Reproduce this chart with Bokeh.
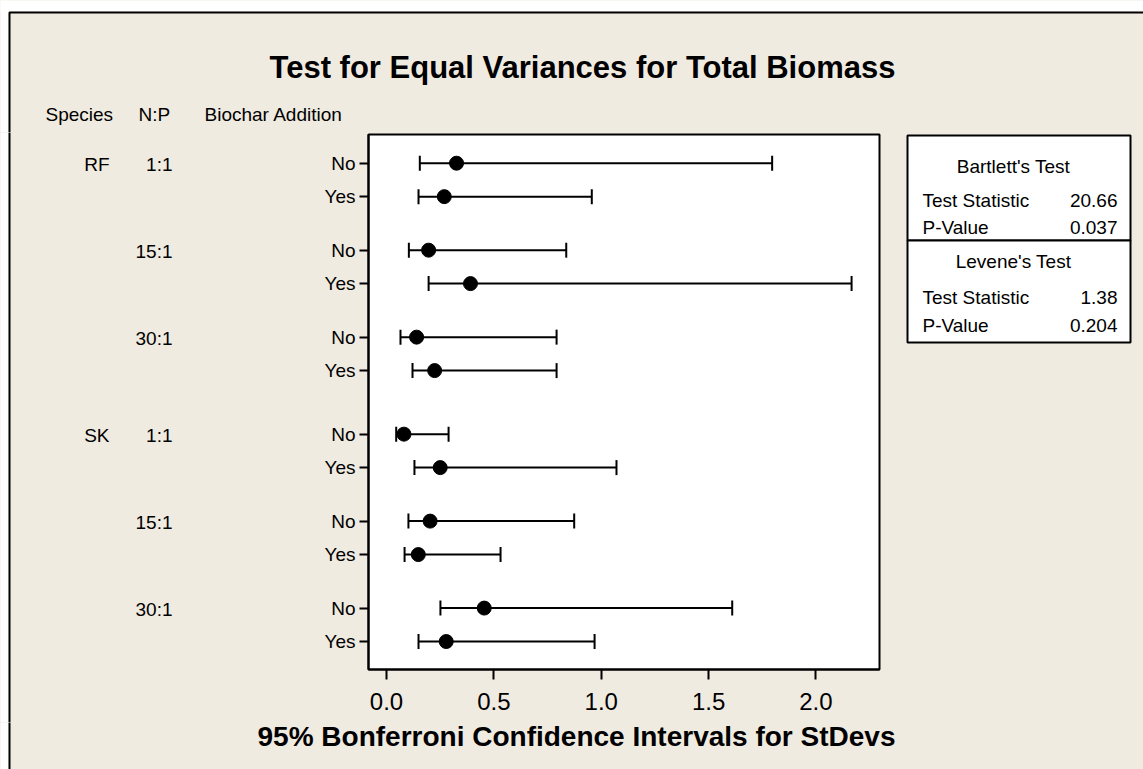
from bokeh.plotting import figure
from bokeh.layouts import column, row
from bokeh.models import (Range1d, FixedTicker, Whisker, TeeHead, ColumnDataSource,
                          PrintfTickFormatter)
from bokeh.core.properties import value
from bokeh.embed import file_html
from bokeh.resources import INLINE

# ---------------- data ----------------
species = ["RF", "SK"]
np_ratio = ["1:1", "15:1", "30:1"]
biochar = ["No", "Yes"]
lower = [0.155, 0.149, 0.104, 0.196, 0.065, 0.121, 0.045, 0.130, 0.102, 0.084, 0.251, 0.149]
stdev = [0.326, 0.269, 0.196, 0.391, 0.140, 0.224, 0.081, 0.250, 0.203, 0.148, 0.455, 0.278]
upper = [1.796, 0.956, 0.837, 2.166, 0.792, 0.792, 0.289, 1.071, 0.874, 0.531, 1.610, 0.969]
x_ticks = [0.0, 0.5, 1.0, 1.5, 2.0]
test_names = ["Bartlett's Test", "Levene's Test"]
test_stat = ["20.66", "1.38"]
p_value = ["0.037", "0.204"]
title_text = "Test for Equal Variances for Total Biomass"
x_label = "95% Bonferroni Confidence Intervals for StDevs"
headers = ["Species", "N:P", "Biochar Addition"]

# ---------------- layout (page pixels) ----------------
BG = "#F0EBE1"
FONT = "Liberation Sans"
W, H = 1143, 769
FL, FT, FR, FB = 368, 134, 879, 669          # plot frame
TOP_H = 132                                  # header strip height
MID_B = 722                                  # bottom of middle row
LEFT_W, MAIN_W = 300, 581
x0, x1 = -0.084, 2.296
y_top, y_bot = -8.58, 151.36


def PY(t):
    return FT + (t - y_top) * (FB - FT) / (y_bot - y_top)


# row positions (tenths of a row unit), with gaps between groups and species
pos, row_lab, group_first = [], [], []
for si, s in enumerate(species):
    for ni, n in enumerate(np_ratio):
        g = si * len(np_ratio) + ni
        for bi, b in enumerate(biochar):
            r = g * len(biochar) + bi
            t = r * 10 + g * 6 + si * 3
            pos.append(t)
            row_lab.append(b)
            if bi == 0:
                group_first.append((s if ni == 0 else "", n, t))


def panel(ox, oy, w, h):
    """Plain drawing surface whose data units are page pixels."""
    f = figure(width=w, height=h, x_range=Range1d(ox, ox + w), y_range=Range1d(oy + h, oy),
               min_border=0, x_axis_location=None, y_axis_location=None,
               toolbar_location=None, output_backend="svg", outline_line_color=None,
               background_fill_color=BG, border_fill_color=BG, frame_align=False)
    f.grid.visible = False
    # page margin outside the graph window (white) and the window's left/top border
    f.quad(left=[-50, -50], right=[8, 4000], top=[-50, -50], bottom=[4000, 11],
           fill_color="white", line_color=None)
    f.quad(left=[9], right=[4000], top=[12], bottom=[4000], fill_color=None,
           line_color="black", line_width=2)
    return f


def txt(f, xs, ys, texts, align="left", size="19px", bold=False):
    f.text(x=xs, y=ys, text=texts, text_align=align, text_baseline="middle",
           text_font=value(FONT), text_font_size=value(size), text_color="black",
           text_font_style="bold" if bold else "normal")


# --- top strip: title and column headers
top = panel(0, 0, W, TOP_H)
txt(top, [582], [66.5], [title_text], "center", "31px", True)
txt(top, [45, 138, 204], [114, 114, 114], headers)

# --- left strip: species and N:P labels
left = panel(0, TOP_H, LEFT_W, MID_B - TOP_H)
sp_x, sp_y, sp_t, np_y, np_t = [], [], [], [], []
for s, n, t in group_first:
    if s:
        sp_x.append(109)
        sp_y.append(PY(t) + 1)
        sp_t.append(s)
    np_y.append(PY(t) + 1)
    np_t.append(n)
txt(left, sp_x, sp_y, sp_t, "right")
txt(left, [172] * len(np_t), np_y, np_t, "right")

# --- main plot
p = figure(width=MAIN_W, height=MID_B - TOP_H, x_range=Range1d(x0, x1),
           y_range=Range1d(y_bot, y_top), output_backend="svg", toolbar_location=None,
           min_border_left=FL - LEFT_W, min_border_right=LEFT_W + MAIN_W - FR,
           min_border_top=FT - TOP_H, min_border_bottom=MID_B - FB,
           background_fill_color="white", border_fill_color=BG,
           outline_line_color="black", outline_line_width=2, frame_align=False)
p.xgrid.visible = False
p.ygrid.visible = False

xa = p.xaxis[0]
xa.ticker = FixedTicker(ticks=x_ticks)
xa.formatter = PrintfTickFormatter(format="%.1f")
xa.major_label_text_font = FONT
xa.major_label_text_font_size = "24px"
xa.major_label_text_color = "black"
xa.major_tick_in = 0
xa.major_tick_out = 10
xa.major_tick_line_width = 2
xa.major_tick_line_color = "black"
xa.minor_tick_line_color = None
xa.axis_line_width = 2
xa.axis_line_color = "black"
xa.major_label_standoff = 13

ya = p.yaxis[0]
ya.ticker = FixedTicker(ticks=pos)
ya.major_label_overrides = {t: lab for t, lab in zip(pos, row_lab)}
ya.major_label_text_font = FONT
ya.major_label_text_font_size = "19px"
ya.major_label_text_color = "black"
ya.major_tick_in = 0
ya.major_tick_out = 9
ya.major_tick_line_width = 2
ya.major_tick_line_color = "black"
ya.minor_tick_line_color = None
ya.axis_line_width = 2
ya.axis_line_color = "black"
ya.major_label_standoff = 4

src = ColumnDataSource(dict(y=pos, lower=lower, upper=upper, sd=stdev))
wh = Whisker(base="y", lower="lower", upper="upper", dimension="width", source=src,
             line_width=2, line_color="black",
             upper_head=TeeHead(size=15, line_width=2, line_color="black"),
             lower_head=TeeHead(size=15, line_width=2, line_color="black"))
p.add_layout(wh)
p.scatter(x="sd", y="y", source=src, size=14, color="black")

# --- right strip: statistics box
right = panel(LEFT_W + MAIN_W, TOP_H, W - LEFT_W - MAIN_W, MID_B - TOP_H)
right.quad(left=[907, 907], right=[1130, 1130], top=[135, 240], bottom=[240, 342],
           fill_color="white", line_color="black", line_width=2)
txt(right, [1013, 1013], [166, 260.5], test_names, "center")
txt(right, [922, 922, 922, 922], [200, 227, 297, 325],
    ["Test Statistic", "P-Value", "Test Statistic", "P-Value"])
txt(right, [1117, 1117, 1117, 1117], [200, 227, 297, 325],
    [test_stat[0], p_value[0], test_stat[1], p_value[1]], "right")

# --- bottom strip: axis title
bottom = panel(0, MID_B, W, H - MID_B)
txt(bottom, [576], [736], [x_label], "center", "28px", True)

mid = row(left, p, right, styles={"background-color": BG})
layout = column(top, mid, bottom, styles={"background-color": BG})
open("out.html", "w").write(file_html(layout, INLINE))
